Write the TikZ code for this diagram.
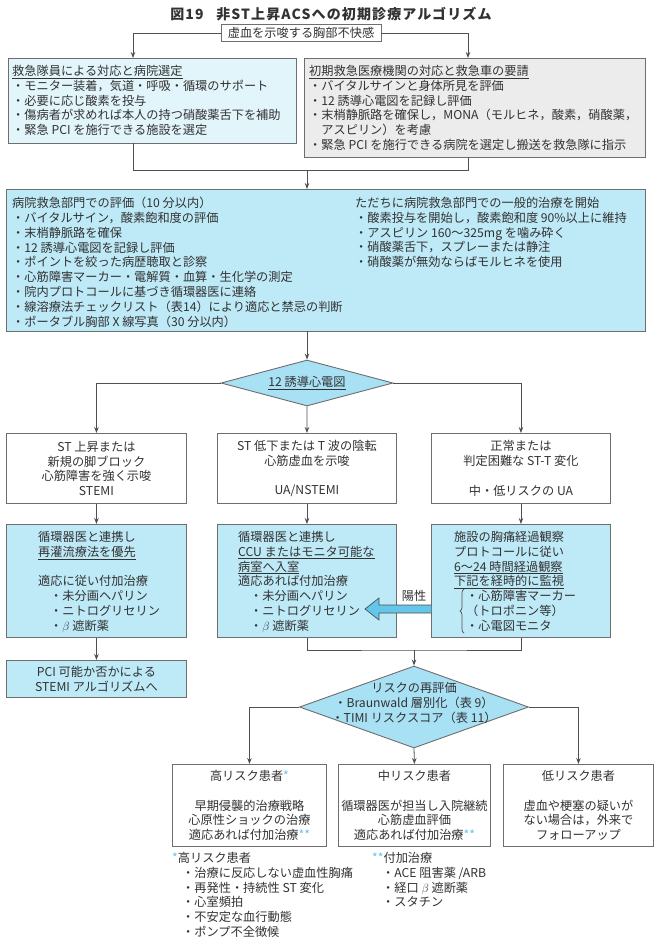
\documentclass[tikz,border=0pt]{standalone}
\usepackage{fontspec}
\setmainfont{Noto Sans CJK JP}
\usetikzlibrary{arrows.meta,shapes.geometric,decorations.pathreplacing,calc}
\definecolor{paleblue}{RGB}{226,245,251}
\definecolor{midblue}{RGB}{190,233,247}
\definecolor{diablue}{RGB}{168,224,244}
\definecolor{greybox}{RGB}{236,236,236}
\definecolor{edgec}{RGB}{110,110,110}
\definecolor{linec}{RGB}{80,80,80}
\definecolor{arrowblue}{RGB}{100,198,234}
\definecolor{txtc}{RGB}{50,50,50}
\newcommand{\fsz}{\fontsize{12.2}{14.8}\selectfont}
\newcommand{\bast}{\textcolor{arrowblue}{*}}
\begin{document}
\begin{tikzpicture}[x=1pt,y=-1pt,
  frame/.style={draw=edgec, line width=0.9pt, inner sep=0pt, anchor=north west},
  conn/.style={draw=linec, line width=0.8pt},
  arr/.style={conn, -{Stealth[length=6pt,width=4.5pt]}},
  txtl/.style={anchor=north west, align=left, inner sep=0pt, font=\fsz, text=txtc},
  txtc/.style={anchor=center, align=center, inner sep=0pt, font=\fsz, text=txtc}]
\useasboundingbox (0,0) rectangle (654,937);
\fill[white] (0,0) rectangle (654,937);

% title
\node[font=\fontsize{14}{16}\selectfont\bfseries\addfontfeature{LetterSpace=8}, text=txtc, inner sep=0pt] (title) at (331,14) {図19\hspace{0.9em}非ST上昇ACSへの初期診療アルゴリズム};

% top box
\node[draw=edgec, line width=0.9pt, fill=white, minimum width=160pt, minimum height=17pt, inner sep=0pt, font=\fsz, text=txtc] (top) at (301,33) {虚血を示唆する胸部不快感};

% first boxes
\node[frame, fill=paleblue, minimum width=288pt, minimum height=85pt] (b1) at (8,58) {};
\node[frame, fill=greybox, minimum width=341pt, minimum height=99pt] (b2) at (304,58) {};
\node[txtl] (t1) at (12,65) {\underline{救急隊員による対応と病院選定}\\・モニター装着，気道・呼吸・循環のサポート\\・必要に応じ酸素を投与\\・傷病者が求めれば本人の持つ硝酸薬舌下を補助\\・緊急 PCI を施行できる施設を選定};
\node[txtl] (t2) at (309,65) {\underline{初期救急医療機関の対応と救急車の要請}\\・バイタルサインと身体所見を評価\\・12 誘導心電図を記録し評価\\・末梢静脈路を確保し，MONA（モルヒネ，酸素，硝酸薬，\\\hspace*{1em}アスピリン）を考慮\\・緊急 PCI を施行できる病院を選定し搬送を救急隊に指示};

\coordinate (b1in) at (133,58);
\coordinate (b2in) at (468,58);
\draw[arr] (top.west) -| (b1in);
\draw[arr] (top.east) -| (b2in);
\coordinate (b1out) at (133,143);
\coordinate (b2out) at (468,157);
\coordinate (m1) at (133,170);
\coordinate (m2) at (468,170);
\draw[conn] (b1out) -- (m1) -- (m2) -- (b2out);

% big box
\node[frame, fill=midblue, minimum width=639pt, minimum height=142pt] (bb) at (6,189) {};
\coordinate (bbin) at (307,189);
\coordinate (mj) at (307,170);
\draw[arr] (mj) -- (bbin);
\node[txtl] (bbl) at (12,197) {病院救急部門での評価（10 分以内）\\・バイタルサイン，酸素飽和度の評価\\・末梢静脈路を確保\\・12 誘導心電図を記録し評価\\・ポイントを絞った病歴聴取と診察\\・心筋障害マーカー・電解質・血算・生化学の測定\\・院内プロトコールに基づき循環器医に連絡\\・線溶療法チェックリスト（表14）により適応と禁忌の判断\\・ポータブル胸部 X 線写真（30 分以内）};
\node[txtl] (bbr) at (355,197) {ただちに病院救急部門での一般的治療を開始\\・酸素投与を開始し，酸素飽和度 90\%以上に維持\\・アスピリン 160〜325mg を噛み砕く\\・硝酸薬舌下，スプレーまたは静注\\・硝酸薬が無効ならばモルヒネを使用};

% diamond 1
\node[diamond, draw=edgec, line width=0.9pt, fill=diablue, minimum width=172pt, minimum height=46pt, inner sep=0pt] (d1) at (307,383) {};
\node[txtc] (d1t) at (d1.center) {\underline{12 誘導心電図}};
\coordinate (bbout) at (307,331);
\draw[arr] (bbout) -- (d1.north);

% ST boxes
\node[frame, fill=white, minimum width=180pt, minimum height=70pt] (s1) at (6,433) {};
\node[frame, fill=white, minimum width=179pt, minimum height=70pt] (s2) at (217,433) {};
\node[frame, fill=white, minimum width=179pt, minimum height=70pt] (s3) at (431,433) {};
\node[txtc] (s1t) at (s1.center) {ST 上昇または\\新規の脚ブロック\\心筋障害を強く示唆\\STEMI};
\node[txtc] (s2t) at (s2.center) {ST 低下または T 波の陰転\\心筋虚血を示唆\\\mbox{}\\UA/NSTEMI};
\node[txtc] (s3t) at (s3.center) {正常または\\判定困難な ST-T 変化\\\mbox{}\\中・低リスクの UA};
\draw[arr] (d1.west) -| (s1.north);
\draw[arr] (d1.east) -| (s3.north);
\draw[arr] (d1.south) -- (s2.north);

% blue boxes
\node[frame, fill=midblue, minimum width=180pt, minimum height=113pt] (c1) at (6,524) {};
\node[frame, fill=midblue, minimum width=179pt, minimum height=113pt] (c2) at (217,524) {};
\node[frame, fill=midblue, minimum width=179pt, minimum height=113pt] (c3) at (431,524) {};
\draw[arr] (s1.south) -- (c1.north);
\draw[arr] (s2.south) -- (c2.north);
\draw[arr] (s3.south) -- (c3.north);
\node[txtl] (c1t) at (38,531) {循環器医と連携し\\\underline{再灌流療法を優先}\\\mbox{}\\適応に従い付加治療\\\hspace*{12pt}・未分画ヘパリン\\\hspace*{12pt}・ニトログリセリン\\\hspace*{12pt}・$\beta$ 遮断薬};
\node[txtl] (c2t) at (238,531) {循環器医と連携し\\\underline{CCU またはモニタ可能な}\\\underline{病室へ入室}\\適応あれば付加治療\\\hspace*{12pt}・未分画ヘパリン\\\hspace*{12pt}・ニトログリセリン\\\hspace*{12pt}・$\beta$ 遮断薬};
\node[txtl] (c3t) at (454,531) {施設の胸痛経過観察\\プロトコールに従い\\\underline{6〜24 時間経過観察}\\\underline{下記を経時的に監視}};
\node[txtl] (c3b) at (466,590) {・心筋障害マーカー\\（トロポニン等）\\・心電図モニタ};
\draw[draw=linec, line width=0.7pt, decorate, decoration={brace, amplitude=4pt}] (c3b.south west) ++(-2,2) coordinate (brb) -- ($(c3b.north west)+(-2,-1)$) coordinate (brt);

% positive arrow
\coordinate (pt) at (c3.west |- 0,609);
\coordinate (pe) at (365,609);
\draw[draw=linec, line width=0.7pt, fill=arrowblue] (pt) ++(0,-4) -- ($(pe)+(14,-4)$) -- ($(pe)+(14,-11)$) -- (pe) -- ($(pe)+(14,11)$) -- ($(pe)+(14,4)$) -- ($(pt)+(0,4)$);
\node[font=\fsz, text=txtc, inner sep=0pt] (pos) at (414,596) {陽性};

% PCI box
\node[frame, fill=midblue, minimum width=180pt, minimum height=37pt] (pci) at (6,660) {};
\node[txtc] (pcit) at (pci.center) {PCI 可能か否かによる\\STEMI アルゴリズムへ};
\draw[arr] (c1.south) -- (pci.north);

% join
\coordinate (cj) at (414,650);
\draw[conn] (c2.south) |- (cj) -| (c3.south);

% diamond 2
\node[diamond, draw=edgec, line width=0.9pt, fill=diablue, minimum width=229pt, minimum height=82pt, inner sep=0pt] (d2) at (414,707) {};
\node[txtc] (d2t) at (414,703) {リスクの再評価\\・Braunwald 層別化（表 9）\\・TIMI リスクスコア（表 11）};
\draw[arr] (cj) -- (d2.north);

% bottom boxes
\node[frame, fill=white, minimum width=154pt, minimum height=82pt] (r1) at (172,764) {};
\node[frame, fill=white, minimum width=152pt, minimum height=82pt] (r2) at (338,764) {};
\node[frame, fill=white, minimum width=150pt, minimum height=82pt] (r3) at (503,764) {};
\draw[arr] (d2.west) -| (r1.north);
\draw[arr] (d2.east) -| (r3.north);
\draw[arr] (d2.south) -- (r2.north);
\node[txtc] (r1t) at (r1.center) {高リスク患者\bast\\\mbox{}\\早期侵襲的治療戦略\\心原性ショックの治療\\適応あれば付加治療\bast\bast};
\node[txtc] (r2t) at (r2.center) {中リスク患者\\\mbox{}\\循環器医が担当し入院継続\\心筋虚血評価\\適応あれば付加治療\bast\bast};
\node[txtc] (r3t) at (r3.center) {低リスク患者\\\mbox{}\\虚血や梗塞の疑いが\\ない場合は，外来で\\フォローアップ};

% footnotes
\node[txtl] (f1) at (172,852) {\bast 高リスク患者\\\hspace*{10pt}・治療に反応しない虚血性胸痛\\\hspace*{10pt}・再発性・持続性 ST 変化\\\hspace*{10pt}・心室頻拍\\\hspace*{10pt}・不安定な血行動態\\\hspace*{10pt}・ポンプ不全徴候};
\node[txtl] (f2) at (372,852) {\bast\bast 付加治療\\\hspace*{10pt}・ACE 阻害薬 /ARB\\\hspace*{10pt}・経口 $\beta$ 遮断薬\\\hspace*{10pt}・スタチン};
\end{tikzpicture}
\end{document}
